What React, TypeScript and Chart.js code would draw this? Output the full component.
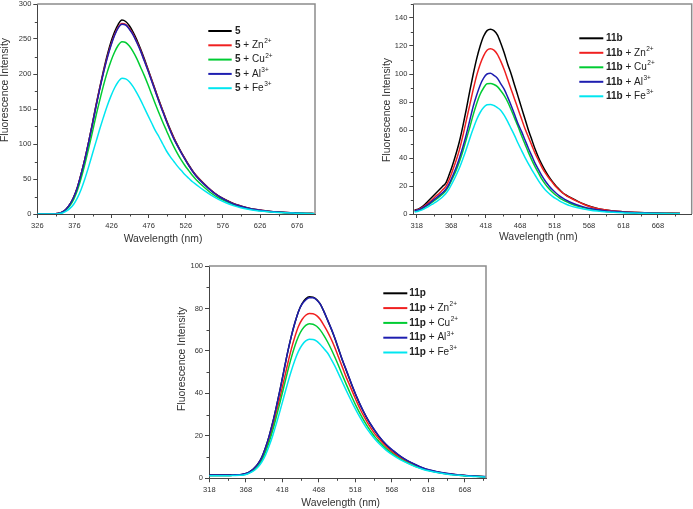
import React, { useEffect, useRef } from 'react';
import { Chart, registerables } from 'chart.js';

Chart.register(...registerables);

const FONT = "'Liberation Sans', Arial, sans-serif";
const COLORS = ['#000000', '#f02020', '#00cc33', '#1e1eb0', '#00e6f0'];
const ION_NAMES = ['', 'Zn', 'Cu', 'Al', 'Fe'];
const ION_CHARGES = ['', '2+', '2+', '3+', '3+'];

// ---------- Panel 1 : compound 5 ----------
const P1_NAME = '5';
const P1_WL = [326, 340, 350, 355, 360, 365, 370, 375, 380, 385, 390, 395, 400, 405, 410, 415, 420, 425, 430, 435, 440, 445, 450, 455, 460, 465, 470, 475, 480, 485, 490, 495, 500, 505, 510, 515, 520, 525, 530, 535, 540, 550, 560, 570, 580, 590, 600, 610, 620, 630, 640, 650, 660, 670, 680, 690, 700];
const P1_FREE = [0, 0, 0.3, 1, 3, 7, 14, 24, 38, 57, 78, 102, 128, 155, 180, 204, 226, 245, 260, 271, 277, 275, 269, 260, 249, 236, 222, 207, 192, 177, 162, 148, 134, 121, 109, 98, 88, 79, 70, 62, 55, 44, 34, 26, 20, 15, 11.5, 8.5, 6.5, 5, 3.6, 2.8, 2.2, 1.7, 1.2, 0.8, 0.5];
const P1_ZN = [0, 0, 0.3, 1, 3, 7, 14, 24, 38, 57, 78, 102, 127, 154, 179, 202, 223, 241, 256, 267, 272, 271, 265, 257, 246, 234, 220, 206, 191, 176, 161, 147, 133, 120, 108, 97.5, 87.5, 78.5, 69.5, 61.5, 54.5, 43.5, 33.7, 25.7, 19.7, 14.7, 11.2, 8.4, 6.4, 4.9, 3.5, 2.7, 2.1, 1.6, 1.1, 0.8, 0.5];
const P1_CU = [0, 0, 0.3, 0.8, 2.5, 6, 12, 21, 34, 51, 71, 93, 116, 140, 162, 183, 202, 218, 231, 241, 246, 245, 240, 232, 222, 210, 198, 185, 171, 157, 144, 131, 119, 107, 96, 86, 77, 69, 62, 55, 49, 39, 30, 23, 18, 13.5, 10, 7.6, 5.8, 4.4, 3.3, 2.5, 1.9, 1.5, 1, 0.7, 0.4];
const P1_AL = [0, 0, 0.3, 1, 3, 7, 14, 24, 38, 57, 78, 102, 127, 153, 178, 201, 222, 240, 255, 266, 271, 270, 264, 256, 245, 233, 219, 205, 190, 175, 160, 146, 132, 119, 107, 97, 87, 78, 69, 61, 54, 43, 33.5, 25.5, 19.5, 14.5, 11, 8.3, 6.3, 4.8, 3.5, 2.7, 2.1, 1.6, 1.1, 0.8, 0.5];
const P1_FE = [0, 0, 0, 0.5, 1.5, 4, 8, 14, 23, 35, 50, 67, 85, 103, 121, 138, 154, 168, 180, 189, 194, 193, 189, 182, 173, 163, 152, 141, 130, 119, 110, 100, 90, 82, 75, 68, 62, 56, 51, 46, 42, 34, 27, 21, 16, 12, 9, 6.8, 5.1, 3.9, 3, 2.3, 1.7, 1.3, 0.9, 0.6, 0.4];
const P1_X_TICKS = [326, 376, 426, 476, 526, 576, 626, 676];
const P1_X_MINOR = [351, 401, 451, 501, 551, 601, 651];
const P1_Y_TICKS = [0, 50, 100, 150, 200, 250, 300];
const P1_Y_MINOR = [25, 75, 125, 175, 225, 275];

// ---------- Panel 2 : compound 11b ----------
const P2_NAME = '11b';
const P2_WL = [315, 320, 325, 330, 335, 340, 345, 350, 355, 360, 365, 370, 375, 380, 385, 390, 395, 400, 405, 410, 415, 420, 425, 430, 435, 440, 445, 450, 455, 460, 465, 470, 475, 480, 485, 490, 495, 500, 505, 510, 515, 520, 525, 530, 535, 540, 550, 560, 570, 580, 590, 600, 620, 640, 660, 680, 700];
const P2_FREE = [3, 3.5, 5, 7, 9.5, 12, 14.5, 17, 19.5, 22, 28, 35, 43, 52, 63, 75, 88, 100, 111, 120, 127, 131, 132, 131, 128, 122, 115, 107, 100, 92, 84, 76, 68, 60, 53, 46, 40, 35, 30.5, 26.5, 23, 20, 17.5, 15, 13.4, 12, 9.5, 7.2, 5.4, 4, 3, 2.3, 1.5, 1, 0.7, 0.5, 0.3];
const P2_ZN = [2.5, 3, 4.3, 6, 8, 10, 12.5, 14.5, 17, 19.5, 24.5, 31, 38, 46, 56, 67, 78, 89, 99, 107, 113, 117, 118, 117, 114, 109, 103, 96, 89, 82, 75, 68, 61, 55, 49, 43, 38, 33, 29, 25.5, 22.5, 19.5, 17, 15, 13.2, 11.8, 9.2, 7, 5.2, 3.9, 3, 2.3, 1.5, 1, 0.7, 0.5, 0.3];
const P2_CU = [2, 2.5, 3.6, 5, 6.5, 8.3, 10, 12, 14, 16.5, 20.5, 25.5, 31, 37.5, 45, 53.5, 62, 71, 79, 85.5, 90, 93, 93.2, 92.5, 91, 88, 84.5, 80, 74.5, 68.5, 62.5, 56, 50, 44, 38.5, 33.5, 29, 24.5, 21, 18, 15.5, 13.4, 11.6, 10.1, 8.8, 7.7, 5.9, 4.6, 3.5, 2.7, 2.1, 1.6, 1.1, 0.7, 0.5, 0.4, 0.3];
const P2_AL = [2.3, 2.8, 4, 5.5, 7, 9, 11, 13, 15, 17.5, 21.5, 27, 33, 40, 48, 57, 67, 77, 85, 92, 97, 100, 100.5, 99, 97, 93, 89, 83.5, 77.5, 71, 64.5, 59, 53, 47, 41.5, 36, 31.5, 27, 23.2, 20, 17.3, 15, 13, 11.3, 9.8, 8.6, 6.6, 5.1, 3.9, 3, 2.4, 1.9, 1.2, 0.8, 0.6, 0.4, 0.3];
const P2_FE = [1.5, 2, 2.8, 4, 5.3, 6.8, 8.3, 10, 12, 14.5, 18, 22.5, 27.5, 33, 39.5, 46.5, 54, 61, 67.5, 72.5, 76, 78, 78.3, 77.5, 76, 74, 70.5, 66, 61, 56, 50.5, 45.5, 40.5, 36, 31.5, 27.5, 23.5, 20, 17, 14.6, 12.6, 10.9, 9.4, 8.1, 7, 6, 4.6, 3.5, 2.7, 2.1, 1.6, 1.3, 0.8, 0.6, 0.4, 0.3, 0.2];
const P2_X_TICKS = [318, 368, 418, 468, 518, 568, 618, 668];
const P2_X_MINOR = [343, 393, 443, 493, 543, 593, 643, 693];
const P2_Y_TICKS = [0, 20, 40, 60, 80, 100, 120, 140];
const P2_Y_MINOR = [10, 30, 50, 70, 90, 110, 130, 150];

// ---------- Panel 3 : compound 11p ----------
const P3_NAME = '11p';
const P3_WL = [318, 330, 340, 350, 360, 365, 370, 375, 380, 385, 390, 395, 400, 405, 410, 415, 420, 425, 430, 435, 440, 445, 450, 455, 460, 465, 470, 475, 480, 485, 490, 495, 500, 505, 510, 515, 520, 525, 530, 535, 540, 545, 550, 560, 570, 580, 590, 600, 610, 620, 630, 640, 650, 660, 670, 680, 690, 697];
const P3_FREE = [1.5, 1.5, 1.5, 1.6, 1.7, 2, 2.5, 3.5, 5, 7, 10, 14.5, 20, 26.5, 34, 42, 50.5, 59, 66.5, 73, 78.5, 82.3, 84.5, 85.5, 85.3, 84.2, 82, 78.5, 74.5, 70.3, 65.8, 60.8, 55.8, 51.3, 46.8, 42.3, 38.1, 34.3, 30.8, 27.6, 24.8, 22.2, 19.8, 15.8, 12.8, 10.2, 8.1, 6.4, 4.9, 3.8, 3, 2.4, 1.9, 1.5, 1.2, 1, 0.8, 0.7];
const P3_ZN = [1.3, 1.3, 1.3, 1.4, 1.5, 1.8, 2.2, 3.2, 4.5, 6.5, 9.3, 13.5, 18.5, 24.5, 31.5, 38.5, 46, 53.5, 60.5, 66.5, 71.5, 74.8, 76.8, 77.6, 77.5, 76.6, 74.8, 72, 69, 65.5, 61.5, 57, 52.5, 48, 44, 40, 36, 32.3, 29, 26, 23.3, 20.8, 18.7, 15, 12, 9.6, 7.6, 6, 4.7, 3.7, 2.9, 2.3, 1.9, 1.5, 1.2, 1, 0.8, 0.7];
const P3_CU = [1.3, 1.3, 1.3, 1.4, 1.5, 1.7, 2.1, 3, 4.2, 6, 8.6, 12.5, 17.2, 22.8, 29.3, 36, 43, 50, 56.5, 62.2, 66.8, 70, 72, 72.8, 72.6, 71.6, 69.8, 67.2, 64.2, 60.8, 57, 53, 48.8, 44.7, 40.8, 37, 33.4, 30.1, 27, 24.2, 21.7, 19.4, 17.5, 14, 11.3, 9, 7.2, 5.7, 4.5, 3.5, 2.8, 2.2, 1.8, 1.4, 1.2, 1, 0.8, 0.7];
const P3_AL = [1.5, 1.5, 1.5, 1.6, 1.7, 2, 2.5, 3.5, 5, 7, 10, 14.5, 20, 26.5, 34, 42, 50.5, 59, 66.5, 73, 78.5, 82, 84, 85, 85, 84, 82, 78.5, 74.5, 70.5, 66, 61, 56, 51.5, 47, 42.5, 38.3, 34.5, 31, 27.8, 25, 22.4, 20, 16, 13, 10.3, 8.2, 6.5, 5, 3.9, 3.1, 2.5, 2, 1.6, 1.3, 1.1, 0.9, 0.8];
const P3_FE = [1.2, 1.2, 1.2, 1.3, 1.4, 1.6, 2, 2.8, 3.8, 5.4, 7.7, 11, 15.3, 20.3, 26, 32, 38.3, 44.5, 50.3, 55.5, 59.8, 62.8, 64.7, 65.5, 65.4, 64.6, 63, 61, 59, 56, 52.8, 49.2, 45.5, 41.8, 38.2, 34.7, 31.4, 28.3, 25.4, 22.8, 20.5, 18.4, 16.5, 13.3, 10.8, 8.7, 7, 5.5, 4.3, 3.4, 2.7, 2.1, 1.7, 1.4, 1.1, 0.9, 0.7, 0.6];
const P3_X_TICKS = [318, 368, 418, 468, 518, 568, 618, 668];
const P3_X_MINOR = [343, 393, 443, 493, 543, 593, 643, 693];
const P3_Y_TICKS = [0, 20, 40, 60, 80, 100];
const P3_Y_MINOR = [10, 30, 50, 70, 90];

const X_TITLE = 'Wavelength (nm)';
const Y_TITLE = 'Fluorescence Intensity';

type PanelCfg = {
  name: string;
  wl: number[];
  series: number[][];
  xMin: number; xMax: number; yMax: number;
  xTicks: number[]; xMinor: number[]; yTicks: number[]; yMinor: number[];
  box: { left: number; top: number; w: number; h: number };
  area: { left: number; top: number; right: number; bottom: number };
  yTitle: { x: number; y: number };
  xTitle: { x: number; y: number };
  legend: { x0: number; x1: number; tx: number; y0: number; dy: number };
};

const PANELS: PanelCfg[] = [
  {
    name: P1_NAME, wl: P1_WL, series: [P1_FREE, P1_ZN, P1_CU, P1_AL, P1_FE],
    xMin: 326, xMax: 700, yMax: 300,
    xTicks: P1_X_TICKS, xMinor: P1_X_MINOR, yTicks: P1_Y_TICKS, yMinor: P1_Y_MINOR,
    box: { left: 0, top: 0, w: 340, h: 250 },
    area: { left: 37.3, top: 4, right: 315, bottom: 214 },
    yTitle: { x: 5, y: 90 }, xTitle: { x: 163, y: 239.3 },
    legend: { x0: 208.3, x1: 231.7, tx: 235, y0: 31, dy: 14.3 },
  },
  {
    name: P2_NAME, wl: P2_WL, series: [P2_FREE, P2_ZN, P2_CU, P2_AL, P2_FE],
    xMin: 313, xMax: 717, yMax: 150,
    xTicks: P2_X_TICKS, xMinor: P2_X_MINOR, yTicks: P2_Y_TICKS, yMinor: P2_Y_MINOR,
    box: { left: 345, top: 0, w: 348, h: 250 },
    area: { left: 68.3, top: 4, right: 346.7, bottom: 214 },
    yTitle: { x: 41.7, y: 110 }, xTitle: { x: 193.3, y: 237.3 },
    legend: { x0: 234.3, x1: 258.3, tx: 261, y0: 38.3, dy: 14.5 },
  },
  {
    name: P3_NAME, wl: P3_WL, series: [P3_FREE, P3_ZN, P3_CU, P3_AL, P3_FE],
    xMin: 317.5, xMax: 697, yMax: 100,
    xTicks: P3_X_TICKS, xMinor: P3_X_MINOR, yTicks: P3_Y_TICKS, yMinor: P3_Y_MINOR,
    box: { left: 170, top: 250, w: 340, h: 259 },
    area: { left: 39, top: 16, right: 316, bottom: 228.3 },
    yTitle: { x: 11.7, y: 109 }, xTitle: { x: 170.7, y: 253.3 },
    legend: { x0: 213.3, x1: 237.3, tx: 239.3, y0: 43.3, dy: 14.8 },
  },
];

function makeDecor(cfg: PanelCfg) {
  return {
    id: 'decor',
    afterDraw(chart: any) {
      const ctx = chart.ctx as CanvasRenderingContext2D;
      const { left, top, right, bottom } = chart.chartArea;
      const xs = chart.scales.x;
      const ys = chart.scales.y;
      ctx.save();
      // top/right frame
      ctx.strokeStyle = '#8c8c8c';
      ctx.lineWidth = 1.5;
      ctx.beginPath();
      ctx.moveTo(left, top);
      ctx.lineTo(right, top);
      ctx.lineTo(right, bottom);
      ctx.stroke();
      // minor ticks
      ctx.strokeStyle = '#444';
      ctx.lineWidth = 1;
      ctx.beginPath();
      cfg.xMinor.forEach((v) => {
        if (v < cfg.xMin || v > cfg.xMax) return;
        const px = Math.round(xs.getPixelForValue(v)) + 0.5;
        ctx.moveTo(px, bottom);
        ctx.lineTo(px, bottom + 2.5);
      });
      cfg.yMinor.forEach((v) => {
        if (v > cfg.yMax) return;
        const py = Math.round(ys.getPixelForValue(v)) + 0.5;
        ctx.moveTo(left - 2.5, py);
        ctx.lineTo(left, py);
      });
      ctx.stroke();
      // axis titles
      ctx.fillStyle = '#333';
      ctx.font = `10.4px ${FONT}`;
      ctx.textAlign = 'center';
      ctx.textBaseline = 'middle';
      ctx.fillText(X_TITLE, cfg.xTitle.x, cfg.xTitle.y);
      ctx.save();
      ctx.translate(cfg.yTitle.x, cfg.yTitle.y);
      ctx.rotate(-Math.PI / 2);
      ctx.fillText(Y_TITLE, 0, 0);
      ctx.restore();
      // legend
      const fs = 10;
      const lg = cfg.legend;
      cfg.series.forEach((_, i) => {
        const y = lg.y0 + i * lg.dy;
        ctx.strokeStyle = COLORS[i];
        ctx.lineWidth = 2;
        ctx.beginPath();
        ctx.moveTo(lg.x0, y);
        ctx.lineTo(lg.x1, y);
        ctx.stroke();
        ctx.fillStyle = '#222';
        ctx.textAlign = 'left';
        ctx.textBaseline = 'middle';
        let x = lg.tx;
        ctx.font = `bold ${fs}px ${FONT}`;
        ctx.fillText(cfg.name, x, y);
        x += ctx.measureText(cfg.name).width;
        if (ION_NAMES[i]) {
          ctx.font = `${fs}px ${FONT}`;
          const s = ' + ' + ION_NAMES[i];
          ctx.fillText(s, x, y);
          x += ctx.measureText(s).width + 0.5;
          ctx.font = `${fs * 0.65}px ${FONT}`;
          ctx.fillText(ION_CHARGES[i], x, y - fs * 0.38);
        }
      });
      ctx.restore();
    },
  };
}

function Panel({ cfg }: { cfg: PanelCfg }) {
  const ref = useRef<HTMLCanvasElement>(null);
  useEffect(() => {
    const canvas = ref.current;
    if (!canvas) return;
    const { box, area } = cfg;
    const tickFont = { family: FONT, size: 7.5 };
    const chart = new Chart(canvas, {
      type: 'line',
      data: {
        datasets: cfg.series.map((vals, i) => ({
          label: i === 0 ? cfg.name : `${cfg.name} + ${ION_NAMES[i]}${ION_CHARGES[i]}`,
          data: cfg.wl.map((x, j) => ({ x, y: vals[j] })),
          borderColor: COLORS[i],
          backgroundColor: COLORS[i],
          borderWidth: 1.5,
          pointRadius: 0,
          fill: false,
          cubicInterpolationMode: 'monotone' as const,
          order: 4 - i,
        })),
      },
      options: {
        responsive: false,
        animation: false,
        devicePixelRatio: 1,
        layout: { padding: { left: 0, top: area.top, right: box.w - area.right, bottom: 0 } },
        plugins: { legend: { display: false }, tooltip: { enabled: false }, title: { display: false } },
        scales: {
          x: {
            type: 'linear',
            min: cfg.xMin,
            max: cfg.xMax,
            afterBuildTicks: (s: any) => { s.ticks = cfg.xTicks.map((v) => ({ value: v })); },
            afterFit: (s: any) => {
              s.height = box.h - area.bottom;
              s.paddingLeft = 0; s.paddingRight = 0;
            },
            ticks: { font: tickFont, color: '#333', padding: 3, maxRotation: 0, autoSkip: false, callback: (v: any) => String(v) },
            grid: { display: true, drawOnChartArea: false, drawTicks: true, tickLength: 4, tickColor: '#444', color: '#444' },
            border: { display: true, color: '#444', width: 1 },
          },
          y: {
            type: 'linear',
            min: 0,
            max: cfg.yMax,
            afterBuildTicks: (s: any) => { s.ticks = cfg.yTicks.map((v) => ({ value: v })); },
            afterFit: (s: any) => {
              s.width = area.left;
              s.paddingTop = 0; s.paddingBottom = 0;
            },
            ticks: { font: tickFont, color: '#333', padding: 2, autoSkip: false, callback: (v: any) => String(v) },
            grid: { display: true, drawOnChartArea: false, drawTicks: true, tickLength: 4, tickColor: '#444', color: '#444' },
            border: { display: true, color: '#444', width: 1 },
          },
        },
      },
      plugins: [makeDecor(cfg)],
    } as any);
    return () => chart.destroy();
  }, [cfg]);
  return (
    <canvas
      ref={ref}
      width={cfg.box.w}
      height={cfg.box.h}
      style={{ position: 'absolute', left: cfg.box.left, top: cfg.box.top, width: cfg.box.w, height: cfg.box.h }}
    />
  );
}

export default function App() {
  return (
    <div style={{ position: 'absolute', left: 0, top: 0, width: 693, height: 509, background: '#fff', overflow: 'hidden' }}>
      {PANELS.map((p, i) => (
        <Panel key={i} cfg={p} />
      ))}
    </div>
  );
}
